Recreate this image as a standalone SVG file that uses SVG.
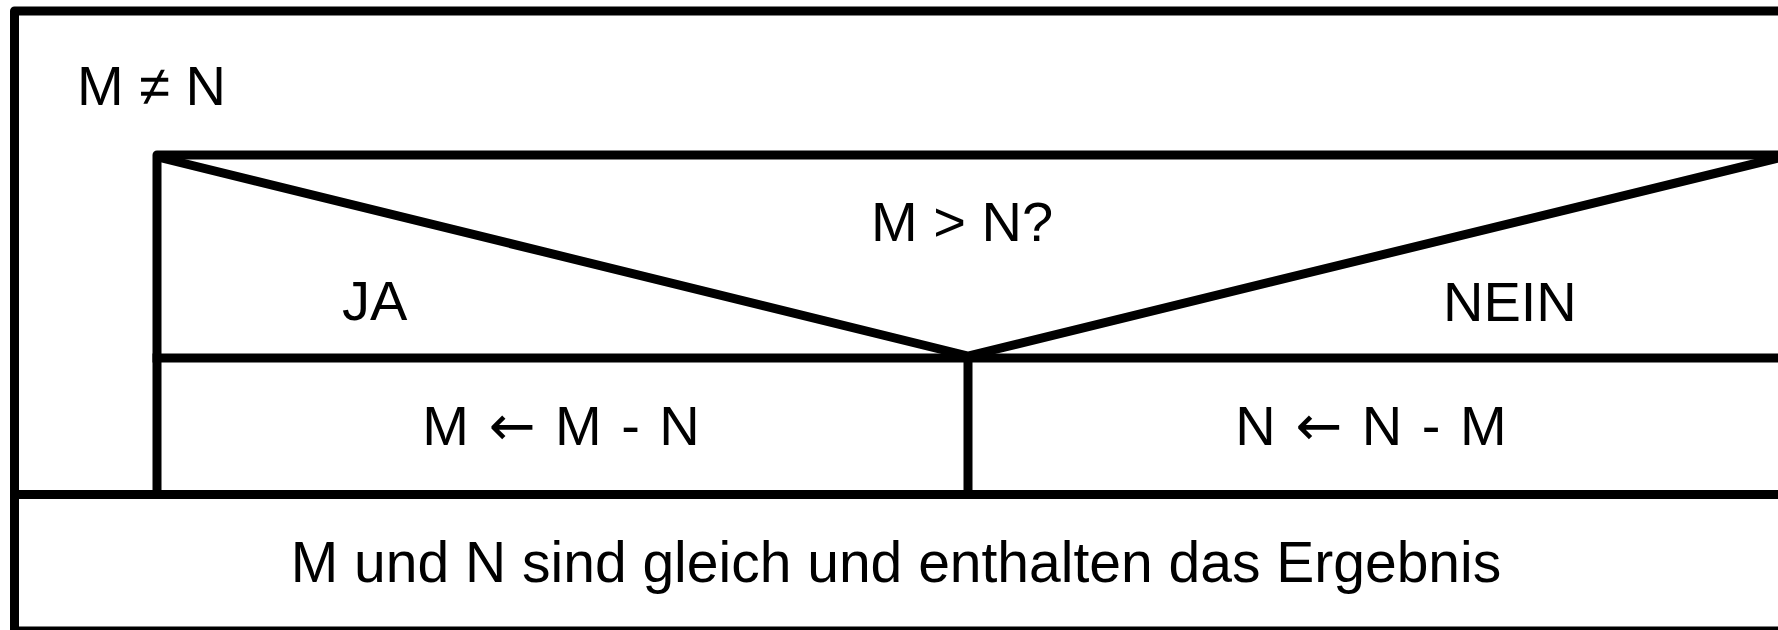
<svg xmlns="http://www.w3.org/2000/svg" width="1778" height="630" viewBox="0 0 1778 630">
<style>
.ln{stroke:#000;stroke-width:9;fill:none;stroke-linejoin:round;stroke-linecap:square}
.t{font-family:"Liberation Sans",Arial,sans-serif;font-size:56px;fill:#000}
.c{text-anchor:middle}
.ar{font-family:"DejaVu Sans",sans-serif}
.ws{word-spacing:4px}
</style>
<rect width="1778" height="630" fill="#fff"/>
<g id="loop">
<rect class="ln" x="14.5" y="11" width="1768" height="620"/>
<text class="t" x="77" y="105">M ≠ N</text>
</g>
<g id="decision">
<path class="ln" d="M157,494 V155 H1790"/>
<path class="ln" d="M162,158 L968,356 L1778,158"/>
<line class="ln" x1="157" y1="358" x2="1790" y2="358"/>
<text class="t c" x="962" y="241">M &gt; N?</text>
<text class="t" x="342" y="320">JA</text>
<text class="t" x="1443" y="321">NEIN</text>
</g>
<g id="yes">
<text class="t c ws" x="561" y="445">M <tspan class="ar">←</tspan> M - N</text>
</g>
<g id="no">
<text class="t c ws" x="1371" y="445">N <tspan class="ar">←</tspan> N - M</text>
</g>
<g id="connectors">
<line class="ln" x1="968" y1="358" x2="968" y2="494"/>
<line class="ln" x1="14.5" y1="494.5" x2="1790" y2="494.5"/>
</g>
<g id="result">
<text class="t c" x="896" y="582" style="font-size:57px">M und N sind gleich und enthalten das Ergebnis</text>
</g>
</svg>
